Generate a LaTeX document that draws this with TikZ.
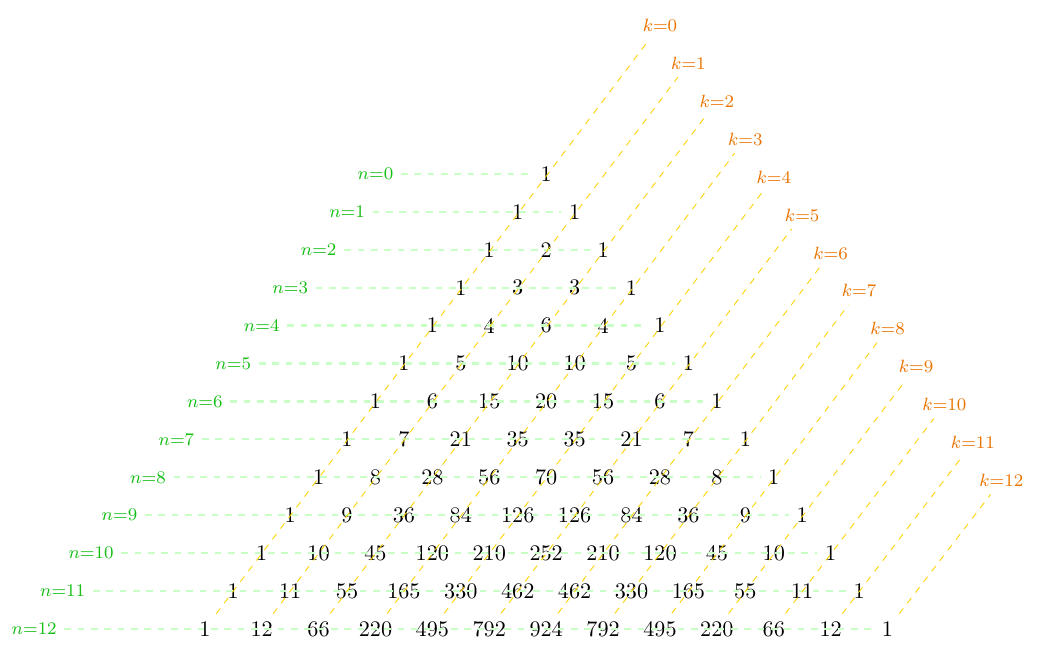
\documentclass[tikz,border=0pt]{standalone}
\definecolor{rowgreen}{RGB}{20,190,20}
\definecolor{diagorange}{RGB}{235,115,0}
\begin{document}
\begin{tikzpicture}[
  rowlabel/.style={font=\footnotesize,text=rowgreen},
  diaglabel/.style={font=\footnotesize,text=diagorange},
  rowline/.style={dashed,line width=1pt,green!22},
  diagline/.style={dashed,yellow!70!orange}]
\useasboundingbox (-8.64,-7.71) rectangle (7.78,2.75);

% the numbers, row by row
\foreach \n in {0,...,12}{
  \node[rowlabel] (n\n) at ({(-\n-6)*0.45},{-0.6*\n}) {$n{=}\n$};
  \foreach \k [remember=\b as \a (initially 1)] in {0,...,\n}{
    \ifnum\k=0 \def\b{1}\else \pgfmathtruncatemacro\b{round(\a*(\n-\k+1)/\k)}\fi
    \node (p\n-\k) at ({(2*\k-\n)*0.45},{-0.6*\n}) {\b};
  }
}
\foreach \k in {0,...,12}
  \node[diaglabel] (k\k) at ({(\k+4)*0.45},{-0.6*(\k-4)-0.05}) {$k{=}\k$};

% lines
\foreach \n in {0,...,12}
  \draw[rowline] (n\n) -- (p\n-\n);
\foreach \k in {0,...,12}
  \draw[diagline] (p12-\k) -- (k\k);
\end{tikzpicture}
\end{document}
